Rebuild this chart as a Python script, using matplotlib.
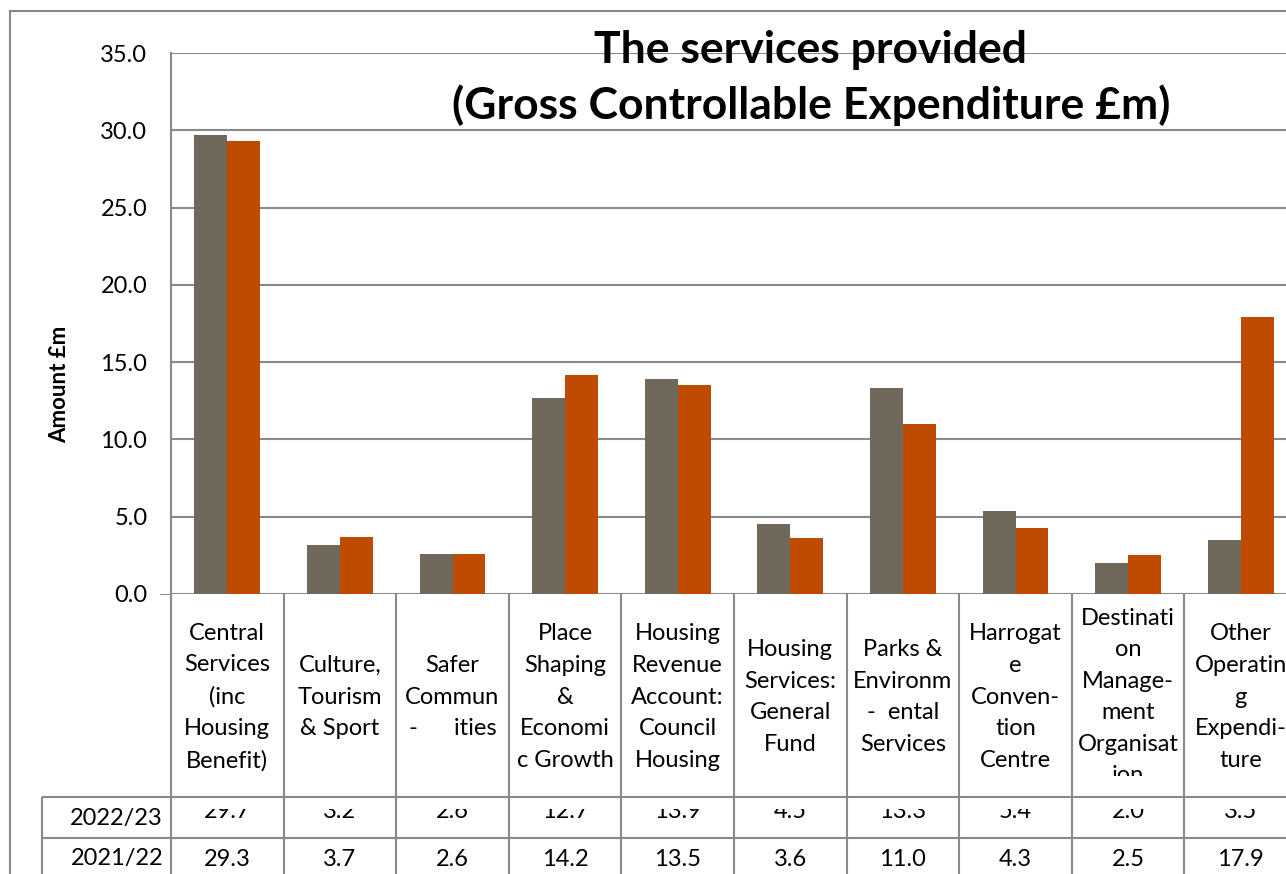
import numpy as np
import matplotlib
matplotlib.use("Agg")
import matplotlib.pyplot as plt
from matplotlib.lines import Line2D
from matplotlib.transforms import Bbox, TransformedBbox

plt.rcParams['font.family'] = ['Lato', 'DejaVu Sans']

# data
categories = ["Central\nServices\n(inc\nHousing\nBenefit)",
              "Culture,\nTourism\n& Sport",
              "Safer\nCommun\n-      ities",
              "Place\nShaping\n&\nEconomi\nc Growth",
              "Housing\nRevenue\nAccount:\nCouncil\nHousing",
              "Housing\nServices:\nGeneral\nFund",
              "Parks &\nEnvironm\n-  ental\nServices",
              "Harrogat\ne\nConven-\ntion\nCentre",
              "Destinati\non\nManage-\nment\nOrganisat\nion",
              "Other\nOperatin\ng\nExpendi-\nture"]
years = ["2022/23", "2021/22"]
v2223 = [29.7, 3.2, 2.6, 12.7, 13.9, 4.5, 13.3, 5.4, 2.0, 3.5]
v2122 = [29.3, 3.7, 2.6, 14.2, 13.5, 3.6, 11.0, 4.3, 2.5, 17.9]
colors = ["#70685B", "#BF4B00"]
yticks = np.arange(0, 36, 5)

W, H = 1286, 874
fig = plt.figure(figsize=(W / 100, H / 100), dpi=100)
grid_c = "#898989"
fs = 17

# layout in pixels
left, top, bottom = 171, 53, 594
cw = 112.6
n = len(categories)
ax = fig.add_axes([left / W, 1 - bottom / H, n * cw / W, (bottom - top) / H])
x = np.arange(n)
bw = 0.293
ax.bar(x - bw / 2, v2223, bw, color=colors[0], zorder=3)
ax.bar(x + bw / 2, v2122, bw, color=colors[1], zorder=3)
ax.set_xlim(-0.5, n - 0.5)
ax.set_ylim(0, 35)
ax.set_yticks(yticks)
ax.set_yticklabels(["%.1f" % t for t in yticks], fontsize=fs)
ax.tick_params(axis='y', length=0, pad=17)
ax.set_xticks([])
ax.yaxis.grid(True, color=grid_c, linewidth=1.5, zorder=0)
for s in ["top", "right", "bottom"]:
    ax.spines[s].set_visible(False)
ax.spines["left"].set_color(grid_c)
ax.spines["left"].set_linewidth(1.5)

fig.text(60 / W, 1 - 384 / H, "Amount £m", rotation=90, ha='center', va='center',
         fontsize=16, fontweight='bold')
fig.text(811 / W, 1 - 78 / H, "The services provided\n(Gross Controllable Expenditure £m)",
         ha='center', va='center', fontsize=32, fontweight='bold', linespacing=1.4)

# table underneath
tab = fig.add_axes([0, 0, (left + n * cw) / W, 1 - bottom / H])
x0 = -0.5 - left / cw
tab.set_xlim(x0, n - 0.5)
tab.set_ylim(H, bottom)
tab.axis('off')
bounds = np.arange(n + 1) - 0.5
tab.vlines(bounds, bottom, H, color=grid_c, linewidth=1.5)
xl = -0.5 - (left - 42) / cw
row_y = [797, 838]
tab.vlines([xl], row_y[0], H, color=grid_c, linewidth=1.5)
tab.hlines(row_y, xl, n - 0.5, color=grid_c, linewidth=1.5)
tab.hlines([bottom], -0.5 - 11 / cw, -0.5, color=grid_c, linewidth=1.5)

lab_clip = TransformedBbox(Bbox([[x0, bottom], [n - 0.5, 776]]), tab.transData)
for i, lab in enumerate(categories):
    t = tab.text(i, 697, lab, ha='center', va='center', fontsize=fs,
                 linespacing=1.62, clip_on=True)
    t.set_clip_box(lab_clip)

r1_clip = TransformedBbox(Bbox([[x0, 809], [n - 0.5, 838]]), tab.transData)
for i in range(n):
    t = tab.text(i, 812, "%.1f" % v2223[i], ha='center', va='center', fontsize=fs, clip_on=True)
    t.set_clip_box(r1_clip)
    tab.text(i, 859, "%.1f" % v2122[i], ha='center', va='center', fontsize=fs)
tab.text(-0.5 - 8 / cw, 818, years[0], ha='right', va='center', fontsize=fs)
tab.text(-0.5 - 8 / cw, 859, years[1], ha='right', va='center', fontsize=fs)

# outer frame
fig.add_artist(Line2D([10 / W, 10 / W], [0, 1 - 11 / H], color=grid_c, linewidth=1.5))
fig.add_artist(Line2D([10 / W, 1], [1 - 11 / H, 1 - 11 / H], color=grid_c, linewidth=1.5))

fig.savefig("out.png", dpi=100)
